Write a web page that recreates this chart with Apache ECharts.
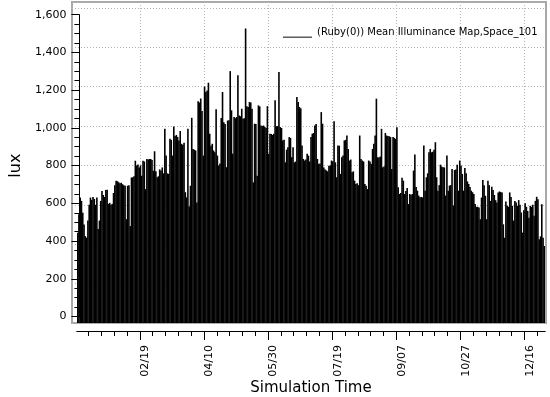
<!DOCTYPE html>
<html>
<head>
<meta charset="utf-8">
<script src="https://cdn.jsdelivr.net/npm/echarts@6/dist/echarts.min.js"></script>
<style>
  html, body { margin: 0; padding: 0; background: #fff; }
  #chart { width: 550px; height: 397px; }
</style>
</head>
<body>
<div id="chart"></div>
<script>
const seriesName = '(Ruby(0)) Mean Illuminance Map,Space_101'

// daily peak of the mean illuminance (lux), 01/01 .. 12/31
const dailyPeak = [
  458, 552, 637, 620, 560, 500, 441, 433, 520, 600, 637, 625, 640, 630, 600, 637, 477, 520, 620, 670,
  650, 640, 675, 676, 605, 610, 600, 605, 660, 700, 722, 720, 715, 710, 712, 705, 700, 697, 527, 697,
  700, 492, 739, 740, 745, 824, 800, 805, 790, 800, 748, 824, 820, 680, 833, 830, 833, 833, 828, 773,
  872, 770, 740, 745, 780, 775, 790, 760, 987, 850, 760, 757, 935, 930, 850, 998, 950, 955, 945, 927,
  975, 910, 905, 915, 664, 638, 987, 592, 697, 1042, 884, 880, 876, 612, 1126, 1120, 1140, 1077, 850, 1201,
  1173, 1180, 1220, 961, 900, 910, 876, 867, 1085, 850, 800, 810, 1041, 1173, 1020, 1010, 791, 1028, 1030, 1279,
  1080, 860, 1046, 1040, 1046, 1258, 1054, 1050, 1088, 1037, 1040, 1496, 1100, 1097, 1122, 1120, 1088, 714, 1012, 1010,
  748, 1105, 1100, 1003, 1000, 1003, 995, 990, 1101, 859, 961, 960, 955, 961, 1131, 999, 1000, 1275, 995, 990,
  927, 930, 816, 880, 893, 944, 940, 842, 893, 816, 820, 1148, 1122, 1097, 1090, 901, 833, 825, 830, 859,
  850, 820, 944, 961, 965, 1003, 1010, 833, 808, 810, 1071, 1012, 790, 780, 775, 770, 799, 800, 825, 820,
  1024, 816, 740, 901, 900, 757, 842, 850, 927, 930, 952, 884, 825, 830, 765, 770, 723, 706, 710, 700,
  952, 833, 825, 820, 706, 697, 680, 825, 820, 808, 884, 910, 952, 1139, 842, 840, 845, 986, 791, 795,
  965, 952, 950, 948, 945, 782, 944, 940, 935, 994, 689, 655, 660, 737, 723, 655, 670, 686, 604, 655,
  650, 655, 774, 855, 690, 672, 647, 638, 640, 638, 901, 672, 740, 760, 867, 884, 867, 870, 880, 918,
  740, 672, 700, 804, 794, 791, 790, 647, 850, 672, 698, 700, 782, 596, 777, 780, 804, 672, 825, 800,
  757, 672, 787, 760, 719, 706, 690, 672, 664, 655, 604, 590, 590, 586, 527, 637, 726, 700, 646, 527,
  722, 700, 620, 692, 675, 650, 624, 612, 663, 668, 665, 663, 501, 433, 617, 595, 590, 663, 640, 595,
  520, 620, 612, 595, 624, 600, 561, 459, 573, 608, 590, 569, 535, 595, 590, 600, 544, 620, 641, 629,
  425, 440, 603, 433, 391
]

// x axis: day of year where the date labels sit, and the minor tick days
const xMajorDays = [49, 99, 149, 199, 249, 299, 349]
const xMajorLabels = ['02/19', '04/10', '05/30', '07/19', '09/07', '10/27', '12/16']
const xMinorDays = [9, 19, 29, 39, 49, 59, 69, 79, 89, 99, 109, 119, 129, 139, 149, 159, 169, 179,
  189, 199, 209, 219, 229, 239, 249, 259, 269, 279, 289, 299, 309, 319, 329, 339, 349, 359]

const font = 'DejaVu Sans'
const gridLine = { color: '#b4b4b4', width: 1, type: [1, 2] }

const chart = echarts.init(document.getElementById('chart'), null, { renderer: 'canvas' })

chart.setOption({
  animation: false,
  color: ['#000'],
  textStyle: { fontFamily: font },
  legend: {
    left: 283,
    top: 27,
    padding: 0,
    itemWidth: 29,
    itemHeight: 11,
    icon: 'path://M0,0M0,10L30,10L30,11L0,11Z',
    itemStyle: { color: '#000' },
    textStyle: { fontFamily: font, fontSize: 10, color: '#000' },
    data: [seriesName]
  },
  grid: [
    // plot frame
    { left: 72, right: 4, top: 2, bottom: 74, show: true, borderColor: '#a8a8a8', borderWidth: 2 },
    // data area
    { left: 77, right: 5, top: 2, bottom: 74 },
    // y axis
    { left: 68, right: 4, top: 14.7, bottom: 80.5 },
    // x axis minor ticks
    { left: 77, right: 5, top: 300, bottom: 66 },
    // x axis major ticks + labels
    { left: 77, right: 5, top: 300, bottom: 66 }
  ],
  xAxis: [
    { gridIndex: 0, type: 'value', min: 0, max: 1, show: false },
    { gridIndex: 1, type: 'category', show: false, boundaryGap: true },
    {
      gridIndex: 1, type: 'value', min: 0, max: 365,
      axisLine: { show: false },
      axisTick: { show: false, customValues: xMajorDays },
      axisLabel: { show: false },
      splitLine: { show: true, lineStyle: gridLine }
    },
    { gridIndex: 2, type: 'value', show: false },
    {
      gridIndex: 3, type: 'value', min: 0, max: 365, position: 'bottom',
      axisLine: { show: true, lineStyle: { color: '#000', width: 1 } },
      axisTick: { show: true, length: 5, customValues: xMinorDays, lineStyle: { color: '#000' } },
      axisLabel: { show: false },
      splitLine: { show: false }
    },
    {
      gridIndex: 4, type: 'value', min: 0, max: 365, position: 'bottom',
      axisLine: { show: true, lineStyle: { color: '#000', width: 1 } },
      axisTick: { show: true, length: 9, customValues: xMajorDays, lineStyle: { color: '#000' } },
      axisLabel: {
        show: true,
        customValues: xMajorDays,
        rotate: 90,
        margin: 14,
        verticalAlign: 'top',
        fontFamily: font,
        fontSize: 11,
        color: '#000',
        formatter: v => xMajorLabels[xMajorDays.indexOf(v)]
      },
      splitLine: { show: false },
      name: 'Simulation Time',
      nameLocation: 'middle',
      nameGap: 47,
      nameTextStyle: { fontFamily: font, fontSize: 15, color: '#000' }
    }
  ],
  yAxis: [
    {
      gridIndex: 0, type: 'value', min: 0, max: 1630, splitNumber: 8,
      axisLine: { show: false }, axisTick: { show: false }, axisLabel: { show: false },
      splitLine: { show: true, lineStyle: gridLine }
    },
    { gridIndex: 1, type: 'value', min: 0, max: 1630, show: false },
    {
      gridIndex: 2, type: 'value', min: 0, max: 1600, interval: 200,
      axisLine: { show: true, lineStyle: { color: '#000', width: 1 } },
      axisTick: { show: true, length: 8, lineStyle: { color: '#000' } },
      minorTick: { show: true, splitNumber: 4, length: 5, lineStyle: { color: '#000' } },
      axisLabel: {
        margin: 13,
        fontFamily: font,
        fontSize: 11,
        color: '#000',
        formatter: v => v.toLocaleString('en-US')
      },
      splitLine: { show: false },
      name: 'lux',
      nameLocation: 'middle',
      nameGap: 51,
      nameRotate: 90,
      nameTextStyle: { fontFamily: font, fontSize: 16, color: '#000' }
    },
    { gridIndex: 3, type: 'value', show: false },
    { gridIndex: 4, type: 'value', show: false }
  ],
  series: [
    {
      name: seriesName,
      type: 'bar',
      xAxisIndex: 1,
      yAxisIndex: 1,
      barWidth: 1.6,
      itemStyle: { color: '#000' },
      data: dailyPeak
    }
  ]
})
</script>
</body>
</html>
